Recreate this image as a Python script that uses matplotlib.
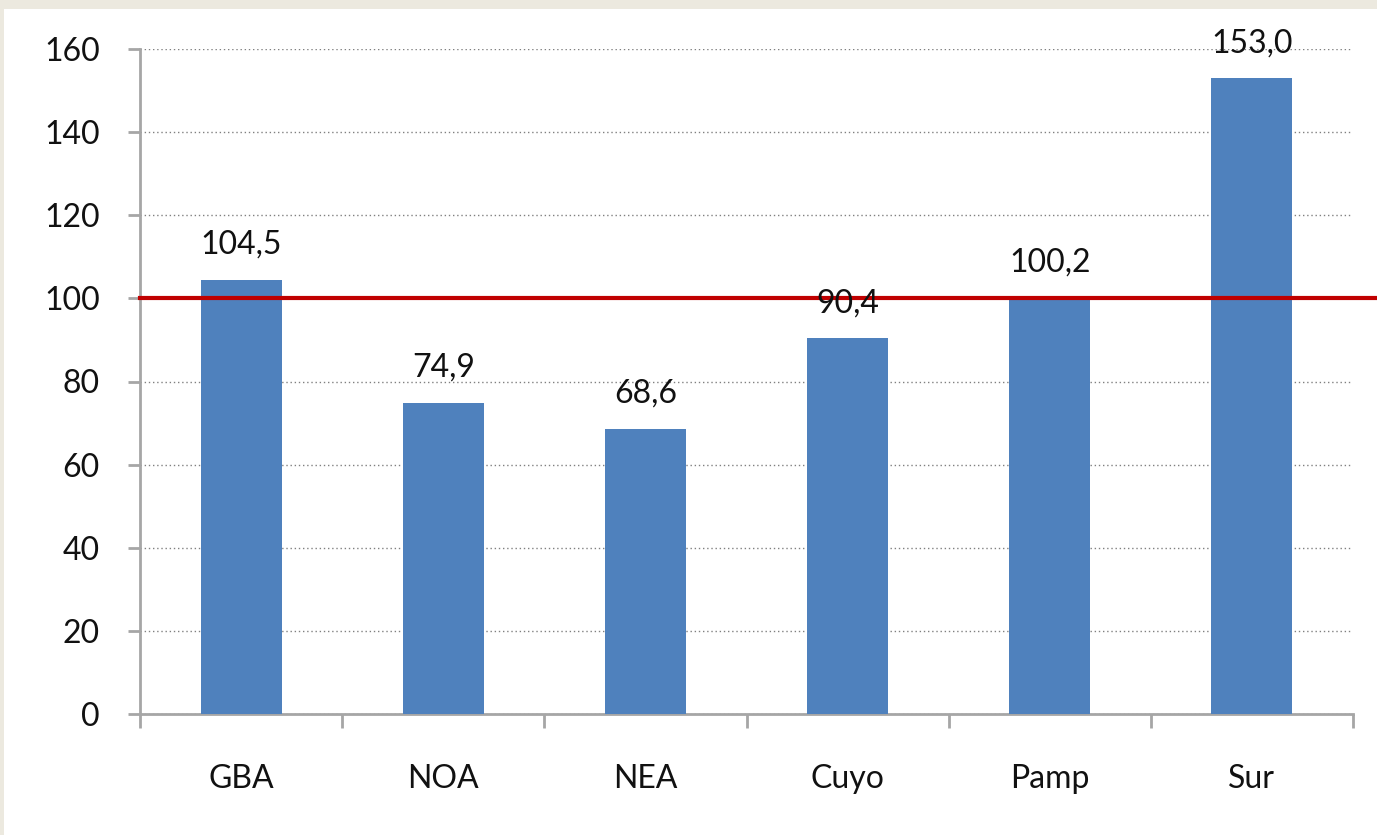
import numpy as np
import matplotlib.pyplot as plt
from matplotlib.lines import Line2D

regions = ["GBA", "NOA", "NEA", "Cuyo", "Pamp", "Sur"]
values = [104.5, 74.9, 68.6, 90.4, 100.2, 153.0]
y_ticks = [0, 20, 40, 60, 80, 100, 120, 140, 160]
reference_level = 100

plt.rcParams['font.family'] = ['Lato', 'DejaVu Sans']

fig = plt.figure(figsize=(13.77, 8.35), dpi=100, facecolor="#ECE9DF")
# white panel inside the beige frame
fig.patches.append(plt.Rectangle((4 / 1377, 0), 1, 1 - 9 / 835, transform=fig.transFigure,
                                 facecolor="white", edgecolor="none", zorder=-10))
ax = fig.add_axes([140 / 1377, 1 - 714 / 835, (1353 - 140) / 1377, (714 - 49) / 835])
ax.set_zorder(5)
ax.set_facecolor("none")

x = np.arange(len(regions))
ax.bar(x, values, width=0.4, color="#4F81BD", zorder=3)

for xi, v in zip(x, values):
    ax.text(xi, v + 4.8, f"{v:.1f}".replace(".", ","), ha="center", va="bottom",
            fontsize=23, color="#111111", zorder=5)

# red reference line running past the plot area to the figure edge
ax.add_line(Line2D([0, 1.03], [reference_level, reference_level], transform=ax.get_yaxis_transform(),
                   color="#C00000", linewidth=3, clip_on=False, zorder=4))

ax.set_xlim(-0.5, len(regions) - 0.5)
ax.set_ylim(0, 160)
ax.set_yticks(y_ticks)
ax.set_xticks(x)
ax.set_xticklabels(regions)
ax.set_xticks(np.arange(len(regions) + 1) - 0.5, minor=True)

ax.grid(axis="y", linestyle=(0, (1, 2)), color="#808080", linewidth=1, zorder=0)
ax.set_axisbelow(True)

for side in ["top", "right"]:
    ax.spines[side].set_visible(False)
for side in ["left", "bottom"]:
    ax.spines[side].set_color("#A6A6A6")
    ax.spines[side].set_linewidth(2)

ax.tick_params(axis="y", length=9, width=2, color="#A6A6A6", pad=20, labelsize=23, labelcolor="#111111")
ax.tick_params(axis="x", which="major", length=0, pad=36, labelsize=23, labelcolor="#111111")
ax.tick_params(axis="x", which="minor", length=10, width=2, color="#A6A6A6")

fig.savefig("out.png", dpi=100, facecolor=fig.get_facecolor())
